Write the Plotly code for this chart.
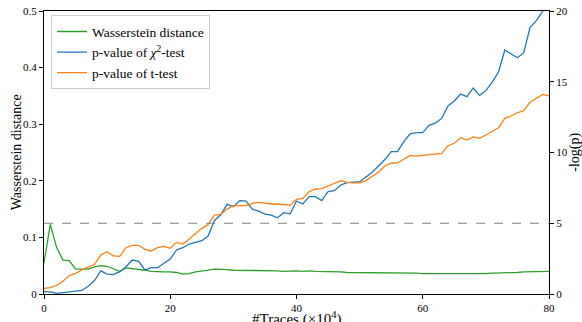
import plotly.graph_objects as go

traces_x = list(range(0, 81))

wasserstein = [
    0.055, 0.123, 0.082, 0.060, 0.059, 0.044, 0.044, 0.044, 0.048, 0.050,
    0.049, 0.045, 0.040, 0.046, 0.045, 0.044, 0.042, 0.040, 0.039, 0.039,
    0.039, 0.038, 0.035, 0.036, 0.039, 0.040, 0.042, 0.044, 0.044, 0.043,
    0.042, 0.042, 0.042, 0.042, 0.041, 0.042, 0.041, 0.041, 0.040, 0.041,
    0.041, 0.040, 0.041, 0.040, 0.040, 0.039, 0.039, 0.039, 0.038, 0.038,
    0.038, 0.038, 0.038, 0.038, 0.038, 0.038, 0.037, 0.037, 0.037, 0.037,
    0.036, 0.036, 0.036, 0.035, 0.036, 0.036, 0.036, 0.036, 0.036, 0.036,
    0.036, 0.037, 0.037, 0.037, 0.037, 0.038, 0.039, 0.039, 0.039, 0.039,
    0.040,
]

chi2_logp = [
    0.17, 0.15, 0.05, 0.10, 0.15, 0.20, 0.25, 0.55, 0.95, 1.63,
    1.41, 1.37, 1.58, 1.93, 2.40, 2.31, 1.70, 1.86, 1.86, 2.17,
    2.47, 3.11, 3.27, 3.53, 3.67, 3.77, 4.10, 5.20, 5.60, 6.34,
    6.17, 6.60, 6.57, 6.00, 5.85, 5.65, 5.58, 5.39, 5.75, 5.67,
    6.57, 6.36, 6.88, 6.88, 6.60, 7.23, 7.30, 7.70, 7.87, 7.92,
    7.94, 8.27, 8.60, 9.05, 9.50, 10.06, 10.06, 10.77, 11.31, 11.40,
    11.40, 11.92, 12.08, 12.41, 13.29, 13.64, 14.13, 13.95, 14.56, 14.04,
    14.37, 14.98, 15.69, 17.24, 17.00, 16.70, 17.05, 18.85, 19.32, 20.00,
    20.65,
]

ttest_logp = [
    0.40, 0.45, 0.60, 0.90, 1.30, 1.45, 1.70, 1.89, 2.10, 2.76,
    2.99, 2.69, 2.66, 3.27, 3.44, 3.44, 3.16, 3.04, 3.28, 3.37,
    3.23, 3.65, 3.53, 3.89, 4.25, 4.64, 4.90, 5.58, 5.63, 6.00,
    6.24, 6.24, 6.24, 6.41, 6.48, 6.43, 6.36, 6.36, 6.34, 6.27,
    6.69, 6.76, 7.23, 7.42, 7.45, 7.66, 7.82, 8.01, 7.89, 7.85,
    7.85, 8.01, 8.34, 8.62, 9.05, 9.24, 9.26, 9.52, 9.80, 9.75,
    9.82, 9.85, 9.89, 9.92, 10.48, 10.65, 11.05, 10.88, 11.10, 11.00,
    11.24, 11.52, 11.75, 12.41, 12.58, 12.81, 12.95, 13.55, 13.83, 14.11,
    14.01,
]

threshold = [5, 5]
threshold_x = [0, 80]

x_ticks = [0, 20, 40, 60, 80]
left_ticks = [0, 0.1, 0.2, 0.3, 0.4, 0.5]
left_tick_text = ["0", "0.1", "0.2", "0.3", "0.4", "0.5"]
right_ticks = [0, 5, 10, 15, 20]

FONT = "Liberation Serif, Times New Roman, serif"

fig = go.Figure()
fig.add_trace(go.Scatter(
    x=traces_x, y=wasserstein, mode="lines", name="Wasserstein distance",
    line=dict(color="#2ca02c", width=1.3), yaxis="y"))
fig.add_trace(go.Scatter(
    x=traces_x, y=chi2_logp, mode="lines",
    name="p-value of <i>χ</i><sup>2</sup>-test",
    line=dict(color="#1f77b4", width=1.3), yaxis="y2"))
fig.add_trace(go.Scatter(
    x=traces_x, y=ttest_logp, mode="lines", name="p-value of t-test",
    line=dict(color="#ff7f0e", width=1.3), yaxis="y2"))
fig.add_trace(go.Scatter(
    x=threshold_x, y=threshold, mode="lines", showlegend=False,
    line=dict(color="#7f7f7f", width=1, dash="dash"), yaxis="y2",
    hoverinfo="skip"))

axis_common = dict(
    showgrid=False, zeroline=False, showline=True, linecolor="black",
    linewidth=1.2, ticks="outside", ticklen=4, tickcolor="black",
    automargin=False,
    tickfont=dict(family=FONT, size=11, color="black"),
)

fig.update_layout(
    width=582, height=322,
    margin=dict(l=44, r=33, t=11, b=28, autoexpand=False),
    paper_bgcolor="white", plot_bgcolor="white",
    font=dict(family=FONT, color="black"),
    xaxis=dict(range=[0, 80], tickvals=x_ticks, mirror=True, **axis_common),
    yaxis=dict(range=[0, 0.5], tickvals=left_ticks, ticktext=left_tick_text,
               **axis_common),
    yaxis2=dict(range=[0, 20], tickvals=right_ticks, overlaying="y",
                side="right", **axis_common),
    legend=dict(
        x=0.014, y=0.985, xanchor="left", yanchor="top",
        bgcolor="rgba(255,255,255,0.8)", bordercolor="#cccccc", borderwidth=1,
        font=dict(family=FONT, size=13.5, color="black"),
        tracegroupgap=0, itemwidth=30,
    ),
    showlegend=True,
    annotations=[
        dict(text="Wasserstein distance", textangle=-90, xref="paper",
             yref="paper", x=-0.054, y=0.5, xanchor="center",
             yanchor="middle", showarrow=False,
             font=dict(family=FONT, size=14, color="black")),
        dict(text="-log(p)", textangle=-90, xref="paper", yref="paper",
             x=1.05, y=0.5, xanchor="center", yanchor="middle",
             showarrow=False,
             font=dict(family=FONT, size=14, color="black")),
        dict(text="#Traces (×10<sup>4</sup>)", xref="paper", yref="paper",
             x=0.5, y=-0.046, xanchor="center", yanchor="top",
             showarrow=False,
             font=dict(family=FONT, size=15, color="black")),
    ],
)

fig.write_html("out.html")
